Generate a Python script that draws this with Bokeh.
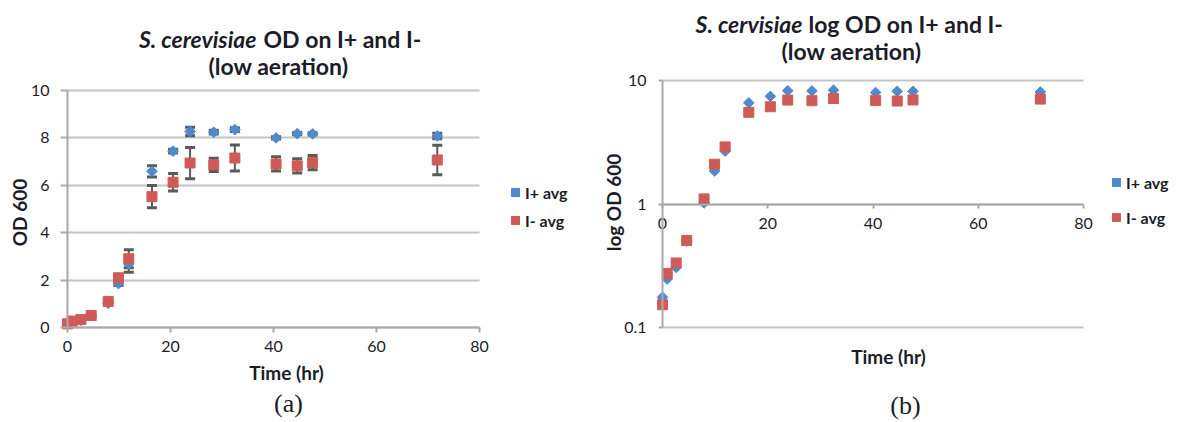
import numpy as np
from bokeh.plotting import figure
from bokeh.layouts import row
from bokeh.models import (ColumnDataSource, Whisker, TeeHead, Label, Legend, LegendItem,
                          FixedTicker, BasicTickFormatter, Range1d, Grid)
from bokeh.embed import file_html
from bokeh.resources import INLINE

# ---------------- data ----------------
time_hr = [0, 0.9, 2.6, 4.6, 7.9, 9.9, 11.9, 16.4, 20.5, 23.8, 28.4, 32.5, 40.5, 44.6, 47.6, 71.8]
iplus_avg = [0.176, 0.247, 0.306, 0.50, 1.02, 1.85, 2.68, 6.59, 7.44, 8.27, 8.24, 8.35, 8.00, 8.18, 8.17, 8.08]
iplus_err = [0.02, 0.02, 0.02, 0.03, 0.05, 0.08, 0.35, 0.24, 0.08, 0.18, 0.08, 0.08, 0.05, 0.05, 0.05, 0.12]
iminus_avg = [0.153, 0.274, 0.333, 0.507, 1.10, 2.10, 2.90, 5.52, 6.13, 6.94, 6.86, 7.15, 6.90, 6.82, 6.96, 7.07]
iminus_err = [0.02, 0.02, 0.02, 0.03, 0.05, 0.10, 0.38, 0.47, 0.37, 0.66, 0.28, 0.55, 0.30, 0.30, 0.30, 0.62]
series_labels = ["I+ avg", "I- avg"]
lin_ticks_x = [0, 20, 40, 60, 80]
lin_ticks_y = [0, 2, 4, 6, 8, 10]
log_ticks_y = [0.1, 1, 10]

BLUE = "#4F8AD0"
RED = "#CF5B57"
GRID = "#C4C4C4"
AXIS = "#A9A9A9"
TXT = "#1c1c28"
FONT = "Lato"
ERR = "#5a5a5a"
FIG_H = 420
TITLE_SIZE = "23px"
AXLAB_SIZE = "19px"

plus_src = ColumnDataSource(dict(
    x=time_hr, y=iplus_avg,
    lower=[a - e for a, e in zip(iplus_avg, iplus_err)],
    upper=[a + e for a, e in zip(iplus_avg, iplus_err)]))
minus_src = ColumnDataSource(dict(
    x=time_hr, y=iminus_avg,
    lower=[a - e for a, e in zip(iminus_avg, iminus_err)],
    upper=[a + e for a, e in zip(iminus_avg, iminus_err)]))


def lin_range(v0, v1, p0, p1, total):
    """range so that value v0 sits at pixel p0 and v1 at p1 on a frame of `total` px"""
    k = (v1 - v0) / (p1 - p0)
    return Range1d(v0 - p0 * k, v0 + (total - p0) * k)


def log_range(v0, v1, p0, p1, total):
    a, b = np.log10(v0), np.log10(v1)
    k = (b - a) / (p1 - p0)
    return Range1d(10 ** (a - p0 * k), 10 ** (a + (total - p0) * k))


def style_axes(p, xt_out, yt_out, x_stand, y_stand):
    p.outline_line_color = None
    p.xgrid.visible = False
    p.ygrid.grid_line_color = GRID
    p.ygrid.grid_line_width = 2
    for ax in (p.xaxis[0], p.yaxis[0]):
        ax.axis_line_color = AXIS
        ax.axis_line_width = 2
        ax.major_tick_line_color = AXIS
        ax.major_tick_line_width = 2
        ax.minor_tick_line_color = None
        ax.major_tick_in = 0
        ax.major_label_text_font = FONT
        ax.major_label_text_font_size = "16px"
        ax.major_label_text_color = TXT
    p.xaxis[0].major_tick_out = xt_out
    p.yaxis[0].major_tick_out = yt_out
    p.xaxis[0].major_label_standoff = x_stand
    p.yaxis[0].major_label_standoff = y_stand


def restrict_grid(p, lo, hi, ticks):
    if "cross_bounds" in Grid.properties():
        p.ygrid.cross_bounds = (lo, hi)
    else:
        p.ygrid.visible = False
        p.segment(x0=lo, x1=hi, y0=ticks, y1=ticks, line_color=GRID, line_width=2,
                  level="underlay")


def add_text(p, x, y, text, style="bold", size=TITLE_SIZE, align="center", angle=0.0, font=FONT):
    p.add_layout(Label(x=x, y=y, x_units="screen", y_units="screen", text=text,
                       text_font=font, text_font_size=size, text_font_style=style,
                       text_color=TXT, text_align=align, text_baseline="middle",
                       angle=angle))


def add_legend(p, r1, r2, loc, spacing):
    leg = Legend(items=[LegendItem(label=series_labels[0], renderers=[r1]),
                        LegendItem(label=series_labels[1], renderers=[r2])],
                 location=loc, orientation="vertical",
                 background_fill_alpha=0, border_line_color=None,
                 glyph_width=20, glyph_height=20, label_height=20,
                 label_standoff=-5, spacing=spacing, padding=0, margin=0,
                 label_text_font=FONT, label_text_font_size="16px",
                 label_text_color=TXT, label_text_font_style="bold")
    p.add_layout(leg)


# ================= (a) linear =================
W1 = 590
p1 = figure(width=W1, height=FIG_H,
            x_range=lin_range(0, 80, 67, 479, W1),
            y_range=lin_range(0, 10, FIG_H - 327, FIG_H - 90, FIG_H),
            output_backend="svg", toolbar_location=None, min_border=0)
p1.xaxis.ticker = FixedTicker(ticks=lin_ticks_x)
p1.yaxis.ticker = FixedTicker(ticks=lin_ticks_y)
p1.xaxis.fixed_location = 0
p1.yaxis.fixed_location = 0
p1.xaxis.bounds = (0, 80)
p1.yaxis.bounds = (0, 10)
style_axes(p1, 5, 7, 8, 11)
restrict_grid(p1, 0, 80, lin_ticks_y[1:])

for src in (plus_src, minus_src):
    p1.add_layout(Whisker(source=src, base="x", lower="lower", upper="upper",
                          line_color=ERR, line_width=2, level="underlay",
                          lower_head=TeeHead(size=10, line_color=ERR, line_width=3),
                          upper_head=TeeHead(size=10, line_color=ERR, line_width=3)))

r1p = p1.scatter("x", "y", source=plus_src, marker="square", angle=np.pi / 4, size=7.5,
                 fill_color=BLUE, line_color=BLUE)
r1m = p1.scatter("x", "y", source=minus_src, marker="square", size=10,
                 fill_color=RED, line_color=RED)
add_legend(p1, r1p, r1m, (505, FIG_H - 230), 8)

add_text(p1, 256, FIG_H - 38, "S. cerevisiae", style="bold italic", align="right")
add_text(p1, 263, FIG_H - 38, "OD on I+ and I-", align="left")
add_text(p1, 278, FIG_H - 65, "(low aeration)")
add_text(p1, 19, FIG_H - 212, "OD 600", size=AXLAB_SIZE, angle=np.pi / 2)
add_text(p1, 286, FIG_H - 372, "Time (hr)", size=AXLAB_SIZE)
add_text(p1, 288, FIG_H - 403, "(a)", style="normal", size="26px", font="Liberation Serif")

# ================= (b) log =================
W2 = 587
p2 = figure(width=W2, height=FIG_H,
            x_range=lin_range(0, 80, 72, 493, W2),
            y_range=log_range(0.1, 10, FIG_H - 327, FIG_H - 80, FIG_H),
            y_axis_type="log", output_backend="svg", toolbar_location=None, min_border=0)
p2.xaxis.ticker = FixedTicker(ticks=lin_ticks_x)
p2.yaxis.ticker = FixedTicker(ticks=log_ticks_y)
p2.yaxis.formatter = BasicTickFormatter()
p2.xaxis.fixed_location = 1
p2.yaxis.fixed_location = 0
p2.xaxis.bounds = (0, 80)
p2.yaxis.bounds = (0.1, 10)
style_axes(p2, 4, 4, 10, 12)
restrict_grid(p2, 0, 80, [0.1, 10])

r2p = p2.scatter("x", "y", source=plus_src, marker="square", angle=np.pi / 4, size=7.5,
                 fill_color=BLUE, line_color=BLUE)
r2m = p2.scatter("x", "y", source=minus_src, marker="square", size=10,
                 fill_color=RED, line_color=RED)
add_legend(p2, r2p, r2m, (516, FIG_H - 227), 15)

add_text(p2, 212, FIG_H - 23, "S. cervisiae", style="bold italic", align="right")
add_text(p2, 218, FIG_H - 23, "log OD on I+ and I-", align="left")
add_text(p2, 261, FIG_H - 50, "(low aeration)")
add_text(p2, 23, FIG_H - 202, "log OD 600", size=AXLAB_SIZE, angle=np.pi / 2)
add_text(p2, 298, FIG_H - 356, "Time (hr)", size=AXLAB_SIZE)
add_text(p2, 315, FIG_H - 405, "(b)", style="normal", size="26px", font="Liberation Serif")

layout = row(p1, p2)
open("out.html", "w").write(file_html(layout, INLINE))
